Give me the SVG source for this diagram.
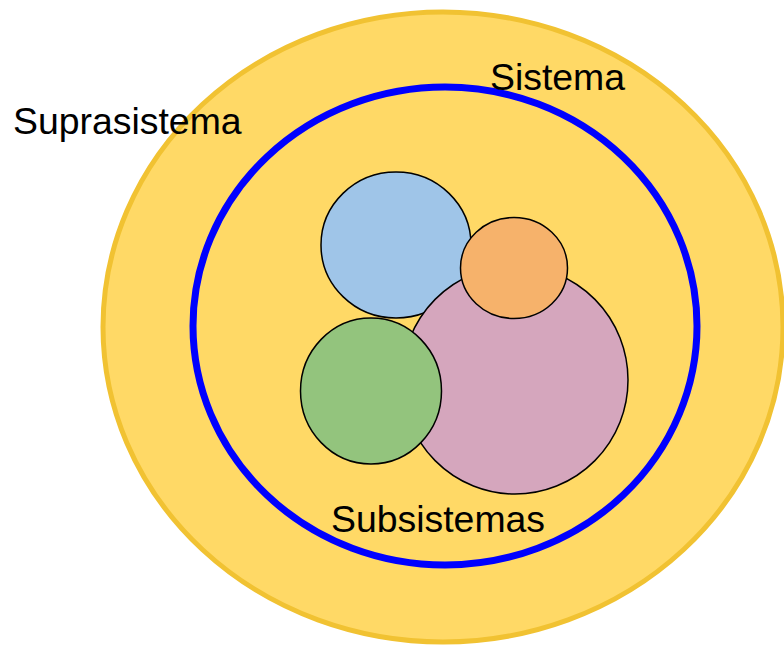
<svg xmlns="http://www.w3.org/2000/svg" width="784" height="645" viewBox="0 0 784 645">
<style>
.lbl{font-family:"Liberation Sans",Arial,sans-serif;font-size:37.4px;fill:#000}
.sub{stroke:#000;stroke-width:1.5}
</style>
<rect width="784" height="645" fill="#fff"/>
<g id="suprasistema">
<ellipse cx="443" cy="327" rx="340" ry="315" fill="#FFD966" stroke="#F1C232" stroke-width="5"/>
<text class="lbl" x="13" y="134">Suprasistema</text>
</g>
<g id="sistema">
<ellipse cx="445" cy="326" rx="252" ry="239" fill="none" stroke="#0000FF" stroke-width="7"/>
<text class="lbl" x="490" y="90">Sistema</text>
</g>
<g id="subsistema-azul"><ellipse class="sub" cx="396" cy="245" rx="75" ry="73" fill="#9FC5E8"/></g>
<g id="subsistema-rosa"><ellipse class="sub" cx="515" cy="380" rx="113" ry="114" fill="#D5A6BD"/></g>
<g id="subsistema-verde"><ellipse class="sub" cx="371" cy="391" rx="70.5" ry="73" fill="#93C47D"/></g>
<g id="subsistema-naranja"><ellipse class="sub" cx="514" cy="268" rx="53.5" ry="50.5" fill="#F6B26B"/></g>
<g id="subsistemas-label"><text class="lbl" x="331" y="532">Subsistemas</text></g>
</svg>
